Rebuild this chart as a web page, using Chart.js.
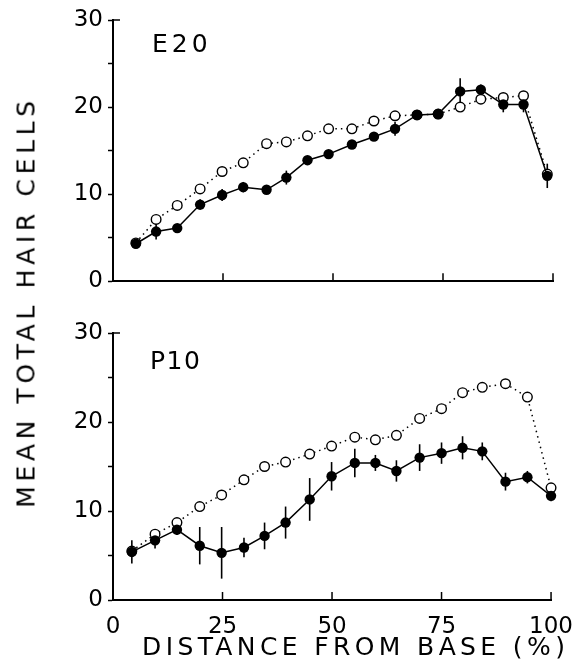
<!DOCTYPE html>
<html>
<head>
<meta charset="utf-8">
<script src="https://cdn.jsdelivr.net/npm/chart.js@4.4.1/dist/chart.umd.min.js"></script>
<style>
  body { margin: 0; background: #fff; width: 586px; height: 672px; position: relative; overflow: hidden;
         font-family: "DejaVu Sans", sans-serif; color: #000; }
  canvas { position: absolute; left: 0; }
  #topChart { top: 0; }
  #botChart { top: 310px; }
  .lbl { position: absolute; white-space: nowrap; line-height: 1; }
  #ytitle { left: 26px; top: 302px; font-size: 25px; transform: translate(-50%, -50%) rotate(-90deg); }
  #xtitle { left: 142px; top: 634px; font-size: 25px; }
  #e20 { left: 152px; top: 31px; font-size: 25px; }
  #p10 { left: 150px; top: 348px; font-size: 25px; }
</style>
</head>
<body>
<canvas id="topChart" width="586" height="300"></canvas>
<canvas id="botChart" width="586" height="362"></canvas>
<div class="lbl" id="ytitle">MEAN TOTAL HAIR CELLS</div>
<div class="lbl" id="xtitle">DISTANCE FROM BASE (%)</div>
<div class="lbl" id="e20">E20</div>
<div class="lbl" id="p10">P10</div>

<script>
// tick labels
const xTicks = [0, 25, 50, 75, 100];
const yTicks = [0, 10, 20, 30];

// E20 (top panel)
const e20X      = [5.2, 9.8, 14.6, 19.8, 24.8, 29.6, 34.9, 39.4, 44.2, 49.0, 54.3, 59.3, 64.1, 69.1, 73.9, 78.9, 83.6, 88.7, 93.3, 98.7];
const e20Filled = [4.3, 5.7, 6.1, 8.8, 9.9, 10.8, 10.5, 11.9, 13.9, 14.6, 15.7, 16.6, 17.5, 19.1, 19.2, 21.8, 22.0, 20.3, 20.3, 12.1];
const e20Err    = [0.5, 0.9, 0.4, 0.6, 0.7, 0.6, 0.3, 0.8, 0.5, 0.3, 0.3, 0.5, 0.8, 0.5, 0.5, 1.5, 0.6, 0.9, 0.9, 1.4];
const e20Open   = [4.4, 7.1, 8.7, 10.6, 12.6, 13.6, 15.8, 16.0, 16.7, 17.5, 17.5, 18.4, 19.0, 19.1, 19.2, 20.0, 20.9, 21.1, 21.3, 12.3];

// P10 (bottom panel)
const p10X      = [4.3, 9.6, 14.6, 19.8, 24.8, 29.9, 34.6, 39.4, 44.9, 49.9, 55.2, 59.9, 64.7, 70.0, 75.0, 79.8, 84.3, 89.6, 94.6, 100];
const p10Filled = [5.4, 6.7, 7.9, 6.1, 5.3, 5.9, 7.2, 8.7, 11.3, 13.9, 15.4, 15.4, 14.5, 16.0, 16.5, 17.1, 16.7, 13.3, 13.8, 11.7];
const p10Err    = [1.3, 0.9, 0.6, 2.1, 2.9, 1.1, 1.5, 1.8, 2.4, 1.6, 1.6, 0.9, 1.2, 1.5, 1.2, 1.3, 1.0, 1.0, 0.7, 0.6];
const p10Open   = [5.5, 7.4, 8.7, 10.5, 11.8, 13.5, 15.0, 15.5, 16.4, 17.3, 18.3, 18.0, 18.5, 20.4, 21.5, 23.3, 23.9, 24.3, 22.8, 12.6];

const FONT = 'DejaVu Sans';

// error bars + inward ticks
const marks = {
  id: 'marks',
  beforeDatasetsDraw(chart) {
    const { ctx, scales: { x, y } } = chart;
    const ds = chart.data.datasets[0];
    ctx.save();
    ctx.strokeStyle = '#000';
    ctx.lineWidth = 1.6;
    ds.data.forEach((p, i) => {
      const px = x.getPixelForValue(p.x);
      ctx.beginPath();
      ctx.moveTo(px, y.getPixelForValue(p.y - ds.err[i]));
      ctx.lineTo(px, y.getPixelForValue(p.y + ds.err[i]));
      ctx.stroke();
    });
    ctx.lineWidth = 1.5;
    xTicks.slice(1).forEach(v => {
      const px = x.getPixelForValue(v);
      ctx.beginPath();
      ctx.moveTo(px, y.bottom);
      ctx.lineTo(px, y.bottom - 8);
      ctx.stroke();
    });
    // top of the y axis gets a short tick into the plot
    const top = y.getPixelForValue(30);
    ctx.beginPath();
    ctx.moveTo(x.left, top);
    ctx.lineTo(x.left + 7, top);
    ctx.stroke();
    ctx.restore();
  }
};

function makeChart(id, xs, filled, err, open, showX, padTop, xHeight) {
  new Chart(document.getElementById(id), {
    type: 'line',
    data: {
      datasets: [{
        data: xs.map((v, i) => ({ x: v, y: filled[i] })),
        err: err,
        borderColor: '#000',
        borderWidth: 1.5,
        backgroundColor: '#000',
        pointRadius: 5.2,
        pointBorderWidth: 0,
        clip: false
      }, {
        data: xs.map((v, i) => ({ x: v, y: open[i] })),
        borderColor: '#000',
        borderWidth: 1.5,
        borderDash: [1.5, 4],
        pointBackgroundColor: '#fff',
        pointBorderColor: '#000',
        pointBorderWidth: 1.4,
        pointRadius: 4.8,
        clip: false
      }]
    },
    options: {
      responsive: false,
      animation: false,
      events: [],
      layout: { padding: { top: padTop, right: 33, left: 0, bottom: 0 } },
      plugins: { legend: { display: false }, tooltip: { enabled: false } },
      scales: {
        x: {
          type: 'linear', min: 0, max: 100,
          afterBuildTicks: s => { s.ticks = xTicks.map(v => ({ value: v })); },
          afterFit: s => { s.height = xHeight; },
          border: { color: '#000', width: 2 },
          grid: { drawOnChartArea: false, drawTicks: false },
          ticks: { display: showX, color: '#000', font: { family: FONT, size: 23 }, padding: 13, maxRotation: 0, autoSkip: false }
        },
        y: {
          min: 0, max: 30,
          ticks: {
            stepSize: 5, color: '#000', font: { family: FONT, size: 23 }, padding: 5,
            callback: v => yTicks.includes(v) ? String(v) : ''
          },
          afterFit: s => { s.width = 113; },
          border: { color: '#000', width: 2 },
          grid: { drawOnChartArea: false, tickLength: 5, tickColor: '#000', tickWidth: 1.5 }
        }
      }
    },
    plugins: [marks]
  });
}

makeChart('topChart', e20X, e20Filled, e20Err, e20Open, false, 20, 15);
makeChart('botChart', p10X, p10Filled, p10Err, p10Open, true, 23, 72);

// spread text to the width it has in the picture
function spread(id, target) {
  const el = document.getElementById(id);
  const n = el.textContent.length;
  el.style.letterSpacing = ((target - el.offsetWidth) / (n - 1)) + 'px';
}
spread('ytitle', 407);
spread('xtitle', 423);
spread('e20', 56);
spread('p10', 50);
</script>
</body>
</html>
